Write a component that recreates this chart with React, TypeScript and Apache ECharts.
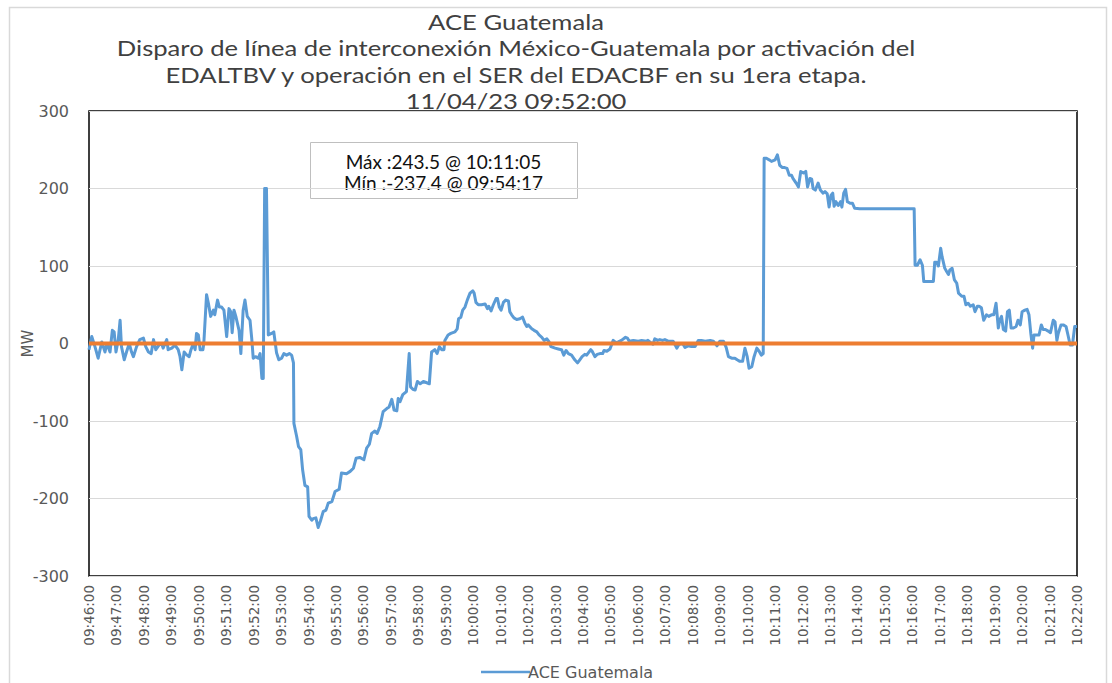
import React, { useEffect, useRef } from "react";
import * as echarts from "echarts";

// Start of the record (x axis origin) and its span
const startClock = "09:46:00";
const spanSeconds = 2160;
const tickStepSeconds = 60;

// Title lines
const titleLines = [
  "ACE Guatemala",
  "Disparo de línea de interconexión México-Guatemala por activación del",
  "EDALTBV y operación en el SER del EDACBF en su 1era etapa.",
  "11/04/23 09:52:00",
];

// Annotation box lines
const noteLines = ["Máx :243.5 @ 10:11:05", "Mín :-237.4 @ 09:54:17"];

const seriesName = "ACE Guatemala";
const yAxisName = "MW";

// Sample instants, seconds after 09:46:00
const sampleSec = [
  0, 6, 13, 20, 28, 35, 39, 46, 51, 55, 59, 64, 68, 71, 77, 82, 88, 93, 97, 104,
  111, 119, 124, 130, 136, 141, 146, 153, 159, 162, 170, 173, 181, 188, 195, 199, 203, 208, 214, 219,
  223, 228, 232, 235, 239, 243, 249, 251, 257, 261, 266, 272, 275, 281, 285, 290, 295, 301, 306, 310,
  313, 317, 321, 328, 332, 337, 341, 346, 352, 356, 359, 364, 370, 374, 378, 381, 384, 388, 392, 399,
  404, 410, 415, 421, 426, 432, 438, 443, 447, 448, 454, 458, 463, 467, 472, 478, 481, 487, 490, 496,
  501, 506, 512, 518, 523, 531, 538, 547, 552, 563, 571, 578, 584, 592, 601, 607, 613, 618, 625, 630,
  636, 643, 651, 656, 662, 667, 673, 676, 680, 686, 694, 700, 703, 708, 713, 718, 724, 731, 740, 744,
  749, 756, 761, 766, 771, 776, 778, 785, 791, 800, 805, 808, 813, 817, 822, 827, 833, 839, 842, 846,
  851, 858, 866, 871, 874, 879, 884, 890, 893, 897, 901, 906, 911, 917, 920, 924, 929, 935, 942, 948,
  953, 957, 960, 968, 973, 979, 984, 990, 995, 1001, 1006, 1010, 1019, 1026, 1033, 1038, 1043, 1048, 1055, 1062,
  1068, 1073, 1078, 1084, 1088, 1097, 1100, 1106, 1111, 1117, 1123, 1126, 1132, 1139, 1146, 1152, 1157, 1164, 1173, 1177,
  1181, 1190, 1201, 1208, 1219, 1222, 1230, 1233, 1237, 1243, 1248, 1254, 1259, 1266, 1277, 1285, 1290, 1298, 1303, 1310,
  1317, 1325, 1332, 1339, 1347, 1358, 1365, 1373, 1379, 1387, 1393, 1398, 1405, 1412, 1417, 1423, 1429, 1434, 1439, 1443,
  1449, 1454, 1460, 1465, 1470, 1474, 1476, 1481, 1487, 1492, 1500, 1505, 1510, 1516, 1521, 1526, 1531, 1536, 1539, 1546,
  1551, 1556, 1562, 1567, 1571, 1576, 1580, 1583, 1588, 1594, 1599, 1605, 1609, 1614, 1618, 1622, 1626, 1629, 1633, 1638,
  1643, 1646, 1650, 1654, 1658, 1664, 1669, 1674, 1685, 1804, 1806, 1811, 1817, 1822, 1825, 1835, 1842, 1846, 1849, 1853,
  1857, 1862, 1865, 1871, 1875, 1879, 1882, 1887, 1892, 1897, 1901, 1908, 1913, 1917, 1922, 1927, 1933, 1937, 1942, 1946,
  1951, 1956, 1962, 1967, 1973, 1978, 1983, 1988, 1991, 1995, 1999, 2004, 2008, 2012, 2016, 2021, 2027, 2031, 2036, 2040,
  2046, 2051, 2055, 2059, 2063, 2066, 2072, 2077, 2082, 2086, 2091, 2097, 2102, 2108, 2112, 2116, 2119, 2125, 2130, 2136,
  2141, 2145, 2150, 2155, 2160,
];

// ACE Guatemala, MW
const aceMW = [
  -8, 9, -4, -19, 2, -11, 0, -11, 17, 15, -11, 5, 30, -4, -21, -11, 0, -11, -17, -4,
  5, 7, -4, -11, -13, 5, -8, -2, 0, -6, 5, -8, -6, -2, -8, -17, -34, -11, -15, -17,
  -8, 0, -8, 13, 11, -8, -8, 0, 63, 52, 35, 43, 37, 56, 47, 47, 43, 9, 45, 41,
  14, 43, 35, 17, -13, 43, 56, 35, 30, 5, -19, -17, -19, -13, -45, -45, 200, 200, 11, 13,
  15, -12, -21, -19, -13, -15, -13, -15, -25, -103, -120, -133, -137, -163, -183, -185, -223, -228, -226, -225,
  -237.4, -229, -217, -215, -206, -204, -191, -188, -167, -168, -165, -161, -148, -147, -150, -135, -130, -116, -113, -116,
  -107, -88, -84, -82, -72, -86, -87, -71, -75, -66, -62, -13, -56, -59, -60, -49, -52, -49, -51, -52,
  -11, -8, -13, -4, -8, -8, 4, 11, 13, 15, 19, 32, 34, 43, 47, 56, 65, 68, 65, 53,
  50, 50, 51, 45, 48, 42, 50, 58, 58, 47, 43, 53, 56, 55, 41, 37, 33, 31, 32, 34,
  26, 22, 24, 19, 17, 15, 11, 8, 4, 6, 2, -4, -6, -7, -8, -15, -9, -13, -15, -21,
  -25, -21, -17, -14, -15, -8, -10, -17, -14, -13, -13, -9, -10, -7, 4, 1, 2, 4, 8, 7,
  3, 4, 3, 4, 3, 4, 0, -1, 6, 4, 5, 4, 5, 3, 3, -6, -1, 0, -5, -3,
  -4, -4, 4, 4, 3, 4, 3, -3, 3, 3, -5, -17, -19, -19, -21, -23, -23, -6, -17, -32,
  -30, -17, -6, -10, -15, -13, 239, 239, 237, 235, 237, 243.5, 230, 227, 227, 226, 217, 217, 213, 207,
  202, 222, 220, 222, 202, 213, 212, 200, 198, 207, 198, 194, 196, 193, 176, 191, 194, 177, 183, 178,
  183, 176, 194, 199, 183, 181, 181, 174.5, 174, 174, 101, 101, 108, 101, 80, 80, 80, 80, 105, 105,
  100, 123, 112, 97, 93, 89, 95, 97, 82, 78, 65, 61, 61, 50, 52, 48, 50, 41, 48, 48,
  46, 30, 37, 35, 37, 37, 52, 20, 30, 35, 18, 16, 41, 43, 20, 20, 22, 30, 24, 41,
  43, 44, 37, 13, -6, 11, 11, 11, 24, 18, 18, 16, 14, 30, 28, 4, 13, 24, 24, 22,
  9, -2, -2, 22, 22,
];

// Reference (zero) line
const zeroLine = [0, 0];

function clockLabel(sec: number): string {
  const [h, m, s] = startClock.split(":").map(Number);
  const total = h * 3600 + m * 60 + s + sec;
  const hh = Math.floor(total / 3600);
  const mm = Math.floor((total % 3600) / 60);
  const ss = total % 60;
  const p = (n: number) => String(n).padStart(2, "0");
  return `${p(hh)}:${p(mm)}:${p(ss)}`;
}

export default function App() {
  const ref = useRef<HTMLDivElement>(null);

  useEffect(() => {
    document.body.style.margin = "0";
    if (!ref.current) return;
    const chart = echarts.init(ref.current, undefined, { renderer: "svg" });

    const aceData = sampleSec.map((t, i) => [t, aceMW[i]]);
    const zeroData = [
      [0, zeroLine[0]],
      [spanSeconds, zeroLine[1]],
    ];

    const titleGraphics = titleLines.map((line, i) => ({
      type: "text",
      x: 516,
      y: 22 + i * 26.4,
      scaleX: 1.22,
      style: {
        text: line,
        fontFamily: "Lato",
        fontSize: 21,
        fill: "#404040",
        align: "center",
        verticalAlign: "middle",
      },
      z: 20,
    }));

    chart.setOption({
      animation: false,
      backgroundColor: "#ffffff",
      legend: {
        data: [seriesName],
        left: 476,
        top: 659,
        itemWidth: 49,
        itemHeight: 14,
        itemGap: 10,
        icon: "path://M0,6 L47,6 L47,8.5 L0,8.5 Z",
        textStyle: {
          fontFamily: "DejaVu Sans",
          fontSize: 16,
          color: "#595959",
          padding: [0, 0, 0, -7],
        },
      },
      grid: {
        left: 89,
        right: 35,
        top: 111,
        bottom: 107,
        show: true,
        borderColor: "#000000",
        borderWidth: 1.5,
        backgroundColor: "transparent",
      },
      xAxis: {
        type: "value",
        min: 0,
        max: spanSeconds,
        interval: tickStepSeconds,
        axisLine: { show: false },
        axisTick: { show: false },
        splitLine: { show: false },
        axisLabel: {
          rotate: 90,
          margin: 9,
          fontFamily: "DejaVu Sans",
          fontSize: 13.5,
          color: "#595959",
          formatter: (v: number) => clockLabel(v),
        },
      },
      yAxis: {
        type: "value",
        min: -300,
        max: 300,
        interval: 100,
        name: yAxisName,
        nameLocation: "middle",
        nameGap: 54,
        nameMoveOverlap: false,
        nameTextStyle: {
          fontFamily: "DejaVu Sans",
          fontSize: 15,
          color: "#595959",
        },
        axisLine: { show: false },
        axisTick: { show: false },
        splitLine: { lineStyle: { color: "#d9d9d9", width: 1.2 } },
        axisLabel: {
          margin: 20,
          fontFamily: "DejaVu Sans",
          fontSize: 16,
          color: "#595959",
        },
      },
      series: [
        {
          name: seriesName,
          type: "line",
          data: aceData,
          symbol: "none",
          lineStyle: { color: "#5b9bd5", width: 3, join: "round" },
          itemStyle: { color: "#5b9bd5" },
          z: 2,
        },
        {
          name: "Cero",
          type: "line",
          data: zeroData,
          symbol: "none",
          lineStyle: { color: "#ed7d31", width: 4 },
          itemStyle: { color: "#ed7d31" },
          z: 3,
        },
      ],
      graphic: [
        {
          type: "rect",
          left: 7,
          top: 5,
          shape: { width: 1097, height: 700 },
          style: { fill: "none", stroke: "#d9d9d9", lineWidth: 1.5 },
          silent: true,
          z: -10,
        },
        ...titleGraphics,
        {
          type: "group",
          left: 310,
          top: 142,
          children: [
            {
              type: "rect",
              shape: { x: 0, y: 0, width: 267, height: 56 },
              style: { fill: "#ffffff", stroke: "#bfbfbf", lineWidth: 1 },
            },
            {
              type: "text",
              x: 133,
              y: 19,
              style: {
                text: noteLines[0],
                fontFamily: "Lato",
                fontSize: 19,
                fill: "#111111",
                align: "center",
                verticalAlign: "middle",
              },
            },
            {
              type: "text",
              x: 133,
              y: 40,
              style: {
                text: noteLines[1],
                fontFamily: "Lato",
                fontSize: 19,
                fill: "#111111",
                align: "center",
                verticalAlign: "middle",
              },
            },
          ],
          z: 10,
        },
      ],
    });

    return () => chart.dispose();
  }, []);

  return <div ref={ref} style={{ width: 1112, height: 683 }} />;
}
